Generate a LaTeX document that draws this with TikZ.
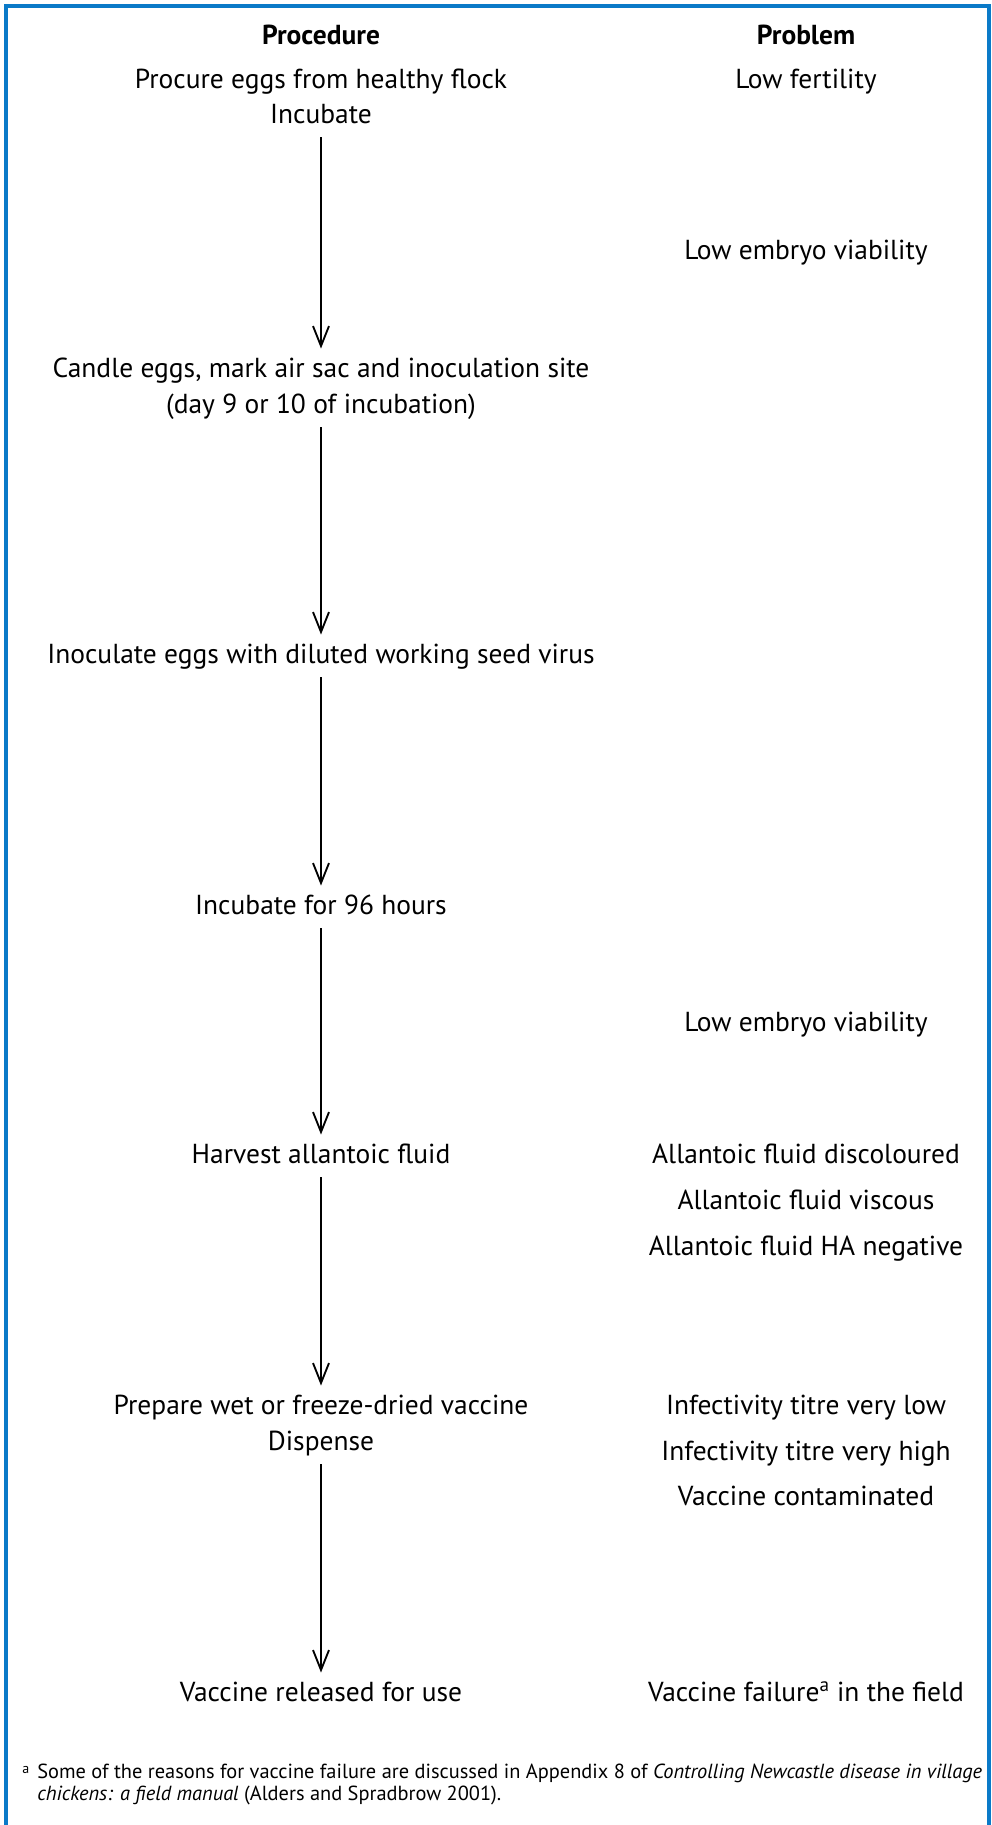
\documentclass[tikz,border=0pt]{standalone}
\usepackage{fontspec}
\setmainfont{PT Sans}
\usetikzlibrary{arrows.meta}
\definecolor{frameblue}{RGB}{10,122,200}
\begin{document}
\begin{tikzpicture}[x=0.75pt,y=-0.75pt,
  lbl/.style={font=\fontsize{20.6}{24}\selectfont, inner sep=0pt, anchor=base,
              text height=14pt, text depth=5pt},
  head/.style={lbl, font=\fontsize{20.6}{24}\selectfont\bfseries},
  flow/.style={-{Straight Barb[length=15pt,width=12pt,line width=1.4pt]}, line width=1.4pt,
               shorten <=5pt, shorten >=7.5pt},
  note/.style={font=\fontsize{15.3}{20}\selectfont, inner sep=0pt, anchor=base west}]
\useasboundingbox (0,0) rectangle (992,1825);
% open frame: left, top and right sides
\draw[frameblue, line width=2.4pt] (6,1825) -- (6,6) -- (989,6) -- (989,1825);

% column headings
\node[head] (hproc) at (321,44.5) {Procedure};
\node[head] (hprob) at (806,44.5) {Problem};

% procedure column
\node[lbl] (s1) at (321,88.5) {Procure eggs from healthy flock};
\node[lbl] (s1b) at (321,123.5) {Incubate};
\node[lbl] (s2) at (321,377.5) {Candle eggs, mark air sac and inoculation site};
\node[lbl] (s2b) at (321,413.5) {(day 9 or 10 of incubation)};
\node[lbl] (s3) at (321,663.5) {Inoculate eggs with diluted working seed virus};
\node[lbl] (s4) at (321,914.5) {Incubate for 96 hours};
\node[lbl] (s5) at (321,1163.5) {Harvest allantoic fluid};
\node[lbl] (s6) at (321,1414.5) {Prepare wet or freeze-dried vaccine};
\node[lbl] (s6b) at (321,1450.5) {Dispense};
\node[lbl] (s7) at (321,1701.5) {Vaccine released for use};

% problem column
\node[lbl] (p1) at (806,88.5) {Low fertility};
\node[lbl] (p2) at (806,259.5) {Low embryo viability};
\node[lbl] (p3) at (806,1031.5) {Low embryo viability};
\node[lbl] (p4) at (806,1163.5) {Allantoic fluid discoloured};
\node[lbl] (p5) at (806,1209.5) {Allantoic fluid viscous};
\node[lbl] (p6) at (806,1255.5) {Allantoic fluid HA negative};
\node[lbl] (p7) at (806,1414.5) {Infectivity titre very low};
\node[lbl] (p8) at (806,1460.5) {Infectivity titre very high};
\node[lbl] (p9) at (806,1505.5) {Vaccine contaminated};
\node[lbl] (p10) at (806,1701.5) {Vaccine failure\textsuperscript{a} in the field};

% flow arrows
\draw[flow] (s1b.south) -- (s2.north);
\draw[flow] (s2b.south) -- (s3.north);
\draw[flow] (s3.south) -- (s4.north);
\draw[flow] (s4.south) -- (s5.north);
\draw[flow] (s5.south) -- (s6.north);
\draw[flow] (s6b.south) -- (s7.north);

% footnote, set as two lines with a hanging marker
\node[note, font=\fontsize{10.5}{12}\selectfont] (fa) at (22,1773) {a};
\node[note] (fn1) at (37,1778)
  {Some of the reasons for vaccine failure are discussed in Appendix 8 of \textit{Controlling Newcastle disease in village}};
\node[note] (fn2) at (37,1800)
  {\textit{chickens: a field manual} (Alders and Spradbrow 2001).};
\end{tikzpicture}
\end{document}
